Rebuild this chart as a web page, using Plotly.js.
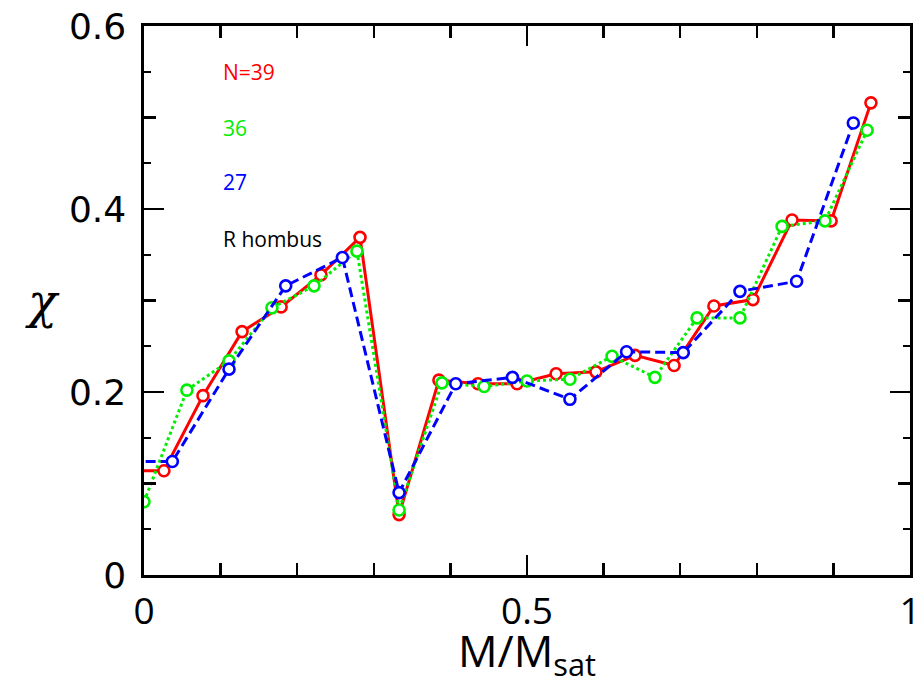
<!DOCTYPE html>
<html>
<head>
<meta charset="utf-8">
<script src="https://cdn.plot.ly/plotly-3.0.1.min.js"></script>
<style>html,body{margin:0;padding:0;background:#fff;}#chart{width:921px;height:685px;}</style>
</head>
<body>
<div id="chart"></div>
<script>
// N=39 (red, solid)
const x39 = [-0.026, 0.026, 0.077, 0.128, 0.179, 0.231, 0.282, 0.333, 0.385, 0.436, 0.487, 0.538, 0.590, 0.641, 0.692, 0.744, 0.795, 0.846, 0.897, 0.949];
const y39 = [0.114, 0.114, 0.196, 0.266, 0.293, 0.328, 0.369, 0.066, 0.213, 0.209, 0.209, 0.220, 0.222, 0.240, 0.229, 0.294, 0.301, 0.388, 0.387, 0.516];
// N=36 (green, dotted)
const x36 = [0.000, 0.056, 0.111, 0.167, 0.222, 0.278, 0.333, 0.389, 0.444, 0.500, 0.556, 0.611, 0.667, 0.722, 0.778, 0.833, 0.889, 0.944];
const y36 = [0.080, 0.202, 0.234, 0.292, 0.316, 0.354, 0.071, 0.210, 0.206, 0.212, 0.214, 0.239, 0.216, 0.281, 0.281, 0.381, 0.387, 0.486];
// N=27 (blue, dashed)
const x27 = [-0.037, 0.037, 0.111, 0.185, 0.259, 0.333, 0.407, 0.481, 0.556, 0.630, 0.704, 0.778, 0.852, 0.926];
const y27 = [0.124, 0.124, 0.225, 0.316, 0.347, 0.090, 0.209, 0.216, 0.192, 0.244, 0.243, 0.310, 0.321, 0.494];

const legendLabels = ["N=39", "36", "27", "R hombus"];
const xTickLabels = ["0", "0.5", "1"];
const yTickLabels = ["0", "0.2", "0.4", "0.6"];

function series(x, y, color, dash, name) {
  return {
    type: 'scatter', mode: 'lines+markers', x: x, y: y, name: name,
    line: {color: color, width: 3, dash: dash},
    marker: {symbol: 'circle', size: 11, color: 'white', line: {color: color, width: 2.6}},
    showlegend: false, hoverinfo: 'x+y'
  };
}

const data = [
  series(x39, y39, '#ff0000', 'solid', 'N=39'),
  series(x36, y36, '#00ee00', 'dot', '36'),
  series(x27, y27, '#0000ff', '10px,5px', '27'),
  {type: 'scatter', x: [], y: [], yaxis: 'y2', showlegend: false, hoverinfo: 'skip'}
];

const axisCommon = {
  showgrid: false, zeroline: false, showline: true, linecolor: 'black', linewidth: 2.6,
  mirror: 'ticks', ticks: 'inside', tickcolor: 'black', tickwidth: 2.4
};

const layout = {
  width: 921, height: 685,
  margin: {l: 144, r: 11, t: 26, b: 110, pad: 0},
  paper_bgcolor: 'white', plot_bgcolor: 'white',
  showlegend: false,
  xaxis: Object.assign({}, axisCommon, {
    range: [0, 1], tickmode: 'array', tickvals: [0, 0.5, 1], ticktext: xTickLabels,
    ticklen: 20, ticklabelstandoff: 2,
    tickfont: {family: 'Open Sans, sans-serif', size: 37, color: 'black'},
    minor: {dtick: 0.1, tick0: 0, ticks: 'inside', ticklen: 12, tickwidth: 2.4, tickcolor: 'black', showgrid: false}
  }),
  yaxis: Object.assign({}, axisCommon, {
    range: [0, 0.6], tickmode: 'array', tickvals: [0, 0.2, 0.4, 0.6], ticktext: yTickLabels,
    ticklen: 20, ticklabelstandoff: 8,
    tickfont: {family: 'DejaVu Sans, sans-serif', size: 36, color: 'black'},
    minor: {dtick: 0.05, tick0: 0, ticks: 'inside', ticklen: 7, tickwidth: 2.4, tickcolor: 'black', showgrid: false}
  }),
  yaxis2: {
    overlaying: 'y', side: 'left', range: [0, 0.6], dtick: 0.1, tick0: 0,
    ticks: 'inside', ticklen: 12, tickwidth: 2.4, tickcolor: 'black', mirror: 'ticks',
    showticklabels: false, showgrid: false, zeroline: false, showline: false
  },
  annotations: [
    {xref: 'paper', yref: 'paper', x: 0.5, y: -0.078, xanchor: 'center', yanchor: 'top', showarrow: false,
     text: 'M/M<sub>sat</sub>', font: {family: 'Open Sans, sans-serif', size: 44, color: 'black'}},
    {xref: 'paper', yref: 'paper', x: -0.132, y: 0.5, xanchor: 'center', yanchor: 'middle', showarrow: false,
     textangle: 0, text: 'χ', font: {family: 'DejaVu Serif, serif', size: 48, style: 'italic', color: 'black'}},
    {xref: 'x', yref: 'y', x: 0.1, y: 0.550, xanchor: 'left', yanchor: 'middle', showarrow: false,
     text: legendLabels[0], font: {family: 'Open Sans, sans-serif', size: 21, color: '#ff0000'}},
    {xref: 'x', yref: 'y', x: 0.1, y: 0.489, xanchor: 'left', yanchor: 'middle', showarrow: false,
     text: legendLabels[1], font: {family: 'Open Sans, sans-serif', size: 21, color: '#00ee00'}},
    {xref: 'x', yref: 'y', x: 0.1, y: 0.429, xanchor: 'left', yanchor: 'middle', showarrow: false,
     text: legendLabels[2], font: {family: 'Open Sans, sans-serif', size: 21, color: '#0000ff'}},
    {xref: 'x', yref: 'y', x: 0.1, y: 0.367, xanchor: 'left', yanchor: 'middle', showarrow: false,
     text: legendLabels[3], font: {family: 'Open Sans, sans-serif', size: 21, color: 'black'}}
  ]
};

Plotly.newPlot('chart', data, layout, {displayModeBar: false, staticPlot: true});
</script>
</body>
</html>
